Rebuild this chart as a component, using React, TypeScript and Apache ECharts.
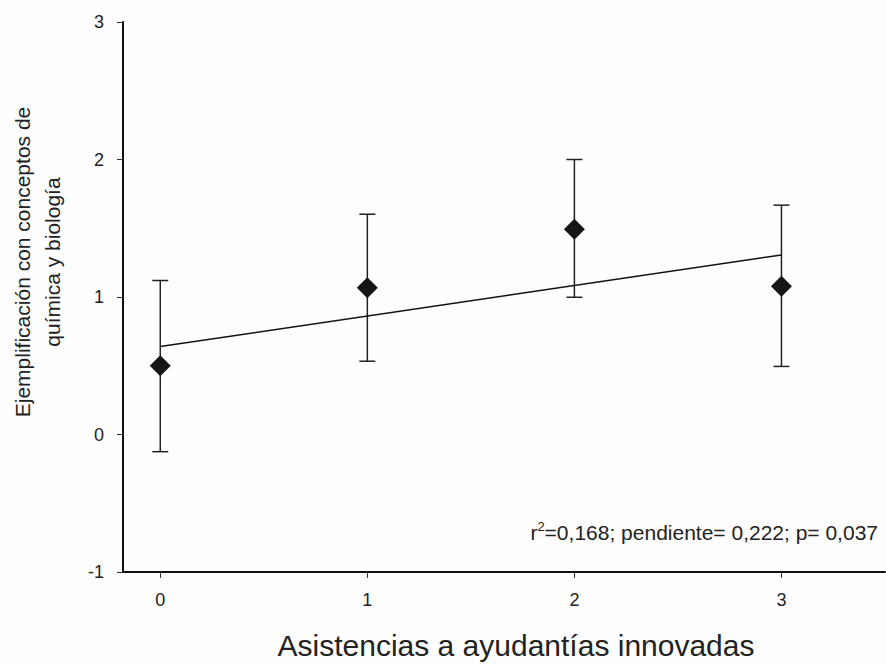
import React, { useEffect, useRef } from "react";
import * as echarts from "echarts";

const xValues = [0, 1, 2, 3];
const meanValues = [0.5, 1.067, 1.493, 1.078];
const lowerValues = [-0.125, 0.533, 0.998, 0.495];
const upperValues = [1.12, 1.602, 2.0, 1.668];
const regressionX = [0, 3];
const regressionY = [0.64, 1.306];
const xTicks = [0, 1, 2, 3];
const xName = "Asistencias a ayudantías innovadas";
const yName = "Ejemplificación con conceptos de\nquímica y biología";

const FONT = "Liberation Sans, Arial, sans-serif";

export default function App() {
  const ref = useRef<HTMLDivElement>(null);
  useEffect(() => {
    if (!ref.current) return;
    const chart = echarts.init(ref.current, null, { renderer: "svg" });
    const errData = xValues.map((x, i) => [x, lowerValues[i], upperValues[i]]);
    chart.setOption({
      animation: false,
      backgroundColor: "#fefefe",
      textStyle: { fontFamily: FONT },
      grid: { left: 123, right: 1, top: 22, bottom: 93, containLabel: false },
      xAxis: {
        type: "value",
        min: -0.18,
        max: 3.5,
        splitLine: { show: false },
        axisLine: { show: true, onZero: false, lineStyle: { color: "#111", width: 2 } },
        axisTick: { show: true, customValues: xTicks, length: 6, lineStyle: { color: "#333", width: 1 } },
        axisLabel: { customValues: xTicks, margin: 19, fontSize: 18, color: "#222", fontFamily: FONT },
      },
      yAxis: {
        type: "value",
        min: -1,
        max: 3,
        interval: 1,
        splitLine: { show: false },
        axisLine: { show: true, onZero: false, lineStyle: { color: "#111", width: 2 } },
        axisTick: { show: true, length: 6, lineStyle: { color: "#333", width: 1 } },
        axisLabel: { margin: 19, fontSize: 18, color: "#222", fontFamily: FONT },
      },
      series: [
        {
          type: "custom",
          data: errData,
          z: 2,
          renderItem: (params: any, api: any) => {
            const x = api.value(0);
            const lo = api.coord([x, api.value(1)]);
            const hi = api.coord([x, api.value(2)]);
            const hw = 8;
            const style = { stroke: "#222", lineWidth: 1.5 };
            return {
              type: "group",
              children: [
                { type: "line", shape: { x1: lo[0], y1: lo[1], x2: hi[0], y2: hi[1] }, style },
                { type: "line", shape: { x1: lo[0] - hw, y1: lo[1], x2: lo[0] + hw, y2: lo[1] }, style },
                { type: "line", shape: { x1: hi[0] - hw, y1: hi[1], x2: hi[0] + hw, y2: hi[1] }, style },
              ],
            };
          },
        },
        {
          type: "line",
          data: regressionX.map((x, i) => [x, regressionY[i]]),
          symbol: "none",
          z: 3,
          lineStyle: { color: "#111", width: 1.5 },
        },
        {
          type: "scatter",
          data: xValues.map((x, i) => [x, meanValues[i]]),
          symbol: "diamond",
          symbolSize: [21, 21],
          z: 4,
          itemStyle: { color: "#151515", opacity: 1 },
        },
      ],
      graphic: [
        {
          type: "text",
          x: 516,
          y: 645,
          style: {
            text: xName,
            fontSize: 30,
            fontFamily: FONT,
            fill: "#222",
            textAlign: "center",
            textVerticalAlign: "middle",
          },
        },
        {
          type: "text",
          x: 37,
          y: 262,
          rotation: Math.PI / 2,
          style: {
            text: yName,
            fontSize: 21,
            lineHeight: 30,
            fontFamily: FONT,
            fill: "#222",
            textAlign: "center",
            textVerticalAlign: "middle",
          },
        },
        {
          type: "text",
          x: 878,
          y: 532,
          style: {
            text: "{b|r}{s|2}{b|=0,168; pendiente= 0,222; p= 0,037}",
            textAlign: "right",
            textVerticalAlign: "middle",
            rich: {
              b: { fontSize: 21, fontFamily: FONT, fill: "#222", color: "#222" },
              s: { fontSize: 13, fontFamily: FONT, fill: "#222", color: "#222", verticalAlign: "top", padding: [0, 0, 12, 0] },
            },
          },
        },
      ],
    });
    return () => chart.dispose();
  }, []);
  return <div ref={ref} style={{ width: 886, height: 665, position: "absolute", left: 0, top: 0 }} />;
}
